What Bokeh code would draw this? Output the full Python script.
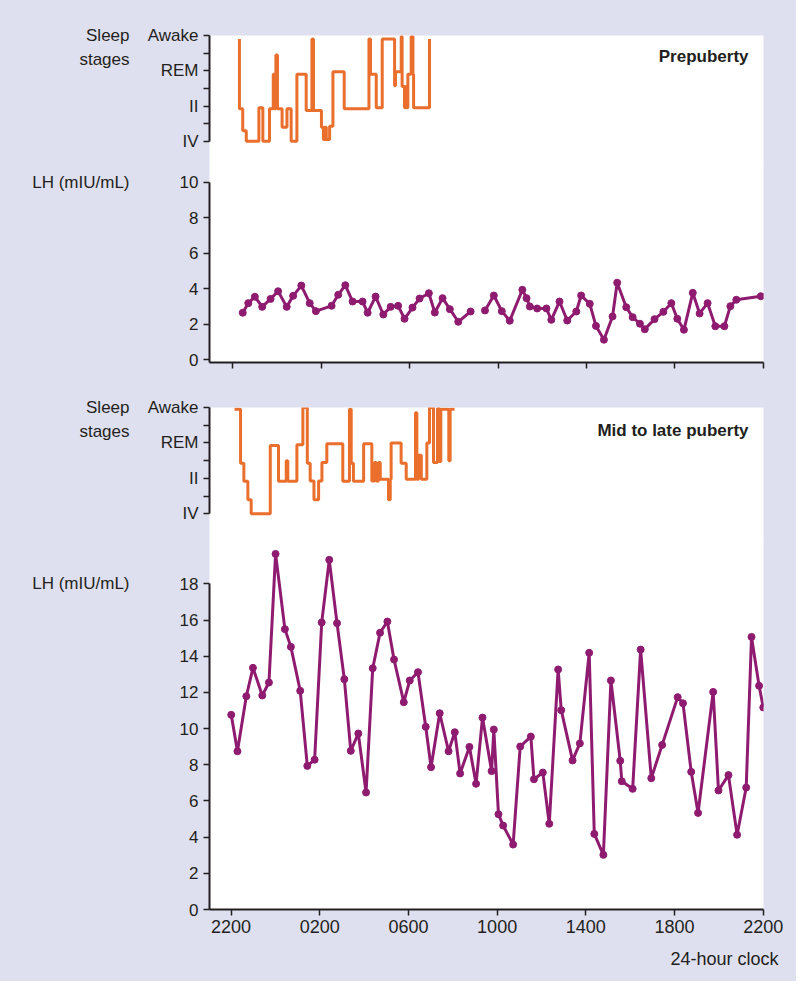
import numpy as np
from bokeh.plotting import figure
from bokeh.layouts import column, row
from bokeh.models import FixedTicker, Range1d, Label
from bokeh.core.properties import value
from bokeh.embed import file_html
from bokeh.resources import INLINE

# ---------------- data ----------------
x_ticks = [0, 4, 8, 12, 16, 20, 24]          # hours after 22:00
x_tick_labels = ["2200", "0200", "0600", "1000", "1400", "1800", "2200"]
stage_ticks = [0, 2, 4, 6]
stage_tick_labels = ["IV", "II", "REM", "Awake"]
stage_minor_ticks = [1, 3, 5]
lh_ticks_pre = [0, 2, 4, 6, 8, 10]
lh_ticks_mid = [0, 2, 4, 6, 8, 10, 12, 14, 16, 18]

pre_sleep_hours = [0.30, 0.30, 0.45, 0.61, 1.18, 1.36, 1.66, 1.83, 1.89, 1.95, 2.02,
                   2.23, 2.45, 2.64, 2.90, 3.32, 3.58, 3.65, 4.01, 4.10, 4.16,
                   4.23, 4.38, 4.53, 5.04, 6.16, 6.23, 6.49, 6.76, 7.32, 7.36,
                   7.62, 7.66, 7.77, 7.82, 7.87, 7.92, 8.07, 8.15, 8.18, 8.90]
pre_sleep_stage = [5.8, 1.85, 0.6, 0.0, 1.9, 0.0, 1.85, 3.8, 1.85, 4.9, 1.85,
                   0.8, 1.85, 0.0, 3.8, 1.75, 5.8, 1.75, 0.8, 0.1, 0.8,
                   0.1, 0.85, 3.95, 1.85, 5.8, 3.8, 1.9, 5.8, 3.15, 3.95,
                   5.95, 3.1, 1.9, 3.1, 1.9, 3.8, 5.95, 3.8, 1.9, 5.8]

pre_lh_hours = [0.45, 0.70, 1.00, 1.33, 1.71, 2.05, 2.44, 2.73, 3.10, 3.48,
                3.76, 4.47, 4.77, 5.09, 5.42, 5.87, 6.10, 6.46, 6.81, 7.14,
                7.48, 7.77, 8.13, 8.45, 8.87, 9.14, 9.49, 9.82, 10.20, 10.76,
                11.10,
                11.41, 11.81, 12.17, 12.53, 13.10, 13.29, 13.44, 13.77, 14.19, 14.41,
                14.78, 15.13, 15.54, 15.76, 16.15, 16.43, 16.79, 17.18, 17.39, 17.80,
                18.09, 18.42, 18.64, 19.08, 19.48, 19.84, 20.11, 20.41, 20.81, 21.12,
                21.48, 21.83, 22.24, 22.51, 22.78, 23.89]
pre_lh = [2.65, 3.19, 3.55, 2.98, 3.43, 3.86, 2.98, 3.60, 4.18, 3.19,
          2.74, 3.04, 3.66, 4.20, 3.28, 3.28, 2.65, 3.56, 2.55, 2.98,
          3.04, 2.31, 2.94, 3.45, 3.75, 2.66, 3.47, 2.85, 2.14, 2.72,
          float("nan"),
          2.78, 3.62, 2.74, 2.20, 3.94, 3.47, 3.00, 2.89, 2.89, 2.25,
          3.28, 2.21, 2.72, 3.62, 3.15, 1.91, 1.13, 2.44, 4.34, 2.96,
          2.40, 2.03, 1.72, 2.29, 2.70, 3.19, 2.31, 1.69, 3.77, 2.61,
          3.19, 1.89, 1.89, 3.02, 3.38, 3.58]

mid_sleep_hours = [0.16, 0.43, 0.58, 0.76, 0.91, 1.77, 2.14, 2.49, 2.56, 2.97,
                   3.24, 3.44, 3.57, 3.74, 3.95, 4.10, 4.32, 5.04, 5.34, 5.42,
                   5.52, 5.98, 6.35, 6.47, 6.55, 6.65, 6.73, 7.10, 7.18, 7.22,
                   7.67, 7.90, 8.32, 8.38, 8.46, 8.58, 8.83, 8.95, 9.13, 9.31,
                   9.40, 9.46, 9.82, 9.88, 10.08]
mid_sleep_stage = [5.9, 2.85, 1.83, 0.79, 0.0, 3.85, 1.83, 3.0, 1.83, 3.9,
                   6.0, 2.85, 1.85, 0.79, 1.85, 2.9, 3.95, 1.83, 5.9, 2.85,
                   1.83, 3.95, 1.85, 2.9, 1.85, 2.9, 1.95, 0.79, 1.95, 4.0,
                   2.85, 1.95, 5.7, 1.95, 3.3, 1.95, 4.0, 6.0, 2.9, 5.95,
                   2.95, 5.9, 3.0, 5.9, 5.9]

mid_lh_hours = [0.01, 0.29, 0.69, 0.99, 1.41, 1.71, 2.01, 2.43, 2.70, 3.12,
                3.44, 3.77, 4.09, 4.43, 4.78, 5.11, 5.40, 5.74, 6.09, 6.39,
                6.72, 7.05, 7.35, 7.79, 8.06, 8.43, 8.78, 9.02, 9.41, 9.81,
                10.09, 10.33, 10.75, 11.05, 11.34, 11.75, 11.85, 12.06, 12.27, 12.72,
                13.04, 13.52, 13.66, 14.06, 14.35, 14.75, 14.89, 15.40, 15.73, 16.15,
                16.38, 16.79, 17.13, 17.55, 17.62, 18.11, 18.47, 18.95, 19.44, 20.14,
                20.38, 20.75, 21.06, 21.74, 21.98, 22.43, 22.82, 23.23, 23.47, 23.81,
                24.0]
mid_lh = [10.76, 8.75, 11.79, 13.36, 11.83, 12.55, 19.66, 15.50, 14.52, 12.09,
          7.94, 8.28, 15.87, 19.33, 15.83, 12.73, 8.77, 9.73, 6.47, 13.34,
          15.30, 15.92, 13.82, 11.46, 12.66, 13.12, 10.10, 7.87, 10.85, 8.75,
          9.80, 7.52, 8.99, 6.95, 10.61, 7.65, 9.95, 5.27, 4.64, 3.59,
          9.01, 9.56, 7.20, 7.57, 4.74, 13.27, 11.02, 8.24, 9.18, 14.19,
          4.18, 3.02, 12.66, 8.22, 7.09, 6.67, 14.37, 7.26, 9.10, 11.74,
          11.40, 7.61, 5.34, 12.03, 6.58, 7.43, 4.13, 6.74, 15.07, 12.37,
          11.17]

# ---------------- style ----------------
BG = "#dfe0ef"
ORANGE = "#ea6e2c"
PURPLE = "#8e1b70"
INK = "#231f20"
FONT = "Liberation Sans"
TOTAL_W = 796
LABEL_W = 135          # strip for the side labels
MAIN_W = TOTAL_W - LABEL_W
AXIS_BORDER = 74
RIGHT = 33
OVERLAP = 1            # panels overlap by 1px so the white plot areas join seamlessly


def main_fig(height, x_range, y_range, top, bottom, overlap=False):
    p = figure(width=MAIN_W, height=height, x_range=x_range, y_range=y_range,
               output_backend="svg", toolbar_location=None,
               min_border_left=AXIS_BORDER, min_border_right=RIGHT,
               min_border_top=top, min_border_bottom=bottom,
               background_fill_color="white", border_fill_color=BG,
               outline_line_color=None)
    p.grid.visible = False
    if overlap:
        p.styles = {"margin-top": "-%dpx" % OVERLAP}
    return p


def px(fig_top, top, height, bottom, yr, v):
    """Screen y (from the top of the stack) of data value v in a panel."""
    frame_h = height - top - bottom
    return fig_top + top + (yr.end - v) * frame_h / (yr.end - yr.start)


def style_y(axis, ticks, labels=None, minor=None, bounds=None):
    axis.ticker = FixedTicker(ticks=ticks, minor_ticks=minor or [])
    if labels:
        axis.major_label_overrides = {t: l for t, l in zip(ticks, labels)}
    axis.bounds = bounds
    axis.axis_line_color = INK
    axis.axis_line_width = 2
    axis.major_tick_line_color = INK
    axis.major_tick_line_width = 1.5
    axis.major_tick_in = 0
    axis.major_tick_out = 6
    axis.minor_tick_line_color = INK if minor else None
    axis.minor_tick_line_width = 1.5
    axis.minor_tick_in = 0
    axis.minor_tick_out = 6
    axis.major_label_text_font = FONT
    axis.major_label_text_font_size = "17px"
    axis.major_label_text_color = INK
    axis.major_label_standoff = 5


def style_x(axis, show_labels):
    axis.ticker = FixedTicker(ticks=x_ticks, minor_ticks=[])
    axis.major_label_overrides = {t: l for t, l in zip(x_ticks, x_tick_labels)}
    axis.axis_line_color = INK
    axis.axis_line_width = 2
    axis.major_tick_line_color = INK
    axis.major_tick_line_width = 1.5
    axis.major_tick_in = 0
    axis.major_tick_out = 6
    axis.minor_tick_line_color = None
    axis.major_label_text_font = FONT
    if show_labels:
        axis.major_label_text_font_size = "18px"
        axis.major_label_text_color = INK
        axis.major_label_standoff = 4
    else:
        axis.major_label_text_font_size = "8px"
        axis.major_label_text_color = None
        axis.major_label_standoff = 0


def panel_title(p, text, y):
    p.add_layout(Label(x=539, y=y, x_units="screen", y_units="screen",
                       text=text, text_align="right", text_baseline="middle",
                       text_font=FONT, text_font_size="17px", text_font_style="bold",
                       text_color=INK))


xr_top = Range1d(-1.054, 24.01)
xr_bot = Range1d(-0.97, 24.01)
side_texts = []   # (text, screen y)

# ---- prepuberty: sleep stages ----
y0 = 0
H, T, B = 165, 35, 0
yr_a1 = Range1d(-1.375, 6)
a1 = main_fig(H, xr_top, yr_a1, T, B)
a1.xaxis.visible = False
style_y(a1.yaxis[0], stage_ticks, stage_tick_labels, stage_minor_ticks, (0, 6))
a1.step(pre_sleep_hours, pre_sleep_stage, mode="after", line_color=ORANGE, line_width=3)
panel_title(a1, "Prepuberty", 109)
side_texts += [("Sleep", px(y0, T, H, B, yr_a1, 6)), ("stages", px(y0, T, H, B, yr_a1, 6) + 24)]
y0 += H - OVERLAP

# ---- prepuberty: LH ----
H, T, B = 218, 0, 20
yr_a2 = Range1d(-0.152, 10.996)
a2 = main_fig(H, xr_top, yr_a2, T, B, overlap=True)
style_y(a2.yaxis[0], lh_ticks_pre, bounds=(-0.152, 10))
style_x(a2.xaxis[0], False)
ph = np.array(pre_lh_hours, dtype=float)
pv = np.array(pre_lh, dtype=float)
a2.line(ph, pv, line_color=PURPLE, line_width=3)
a2.scatter(ph, pv, size=7, fill_color=PURPLE, line_color=PURPLE)
side_texts += [("LH (mIU/mL)", px(y0, T, H, B, yr_a2, 10))]
y0 += H

# ---- mid to late puberty: sleep stages ----
H, T, B = 158, 25, 0
yr_b1 = Range1d(-1.51, 6)
b1 = main_fig(H, xr_bot, yr_b1, T, B)
b1.xaxis.visible = False
style_y(b1.yaxis[0], stage_ticks, stage_tick_labels, stage_minor_ticks, (0, 6))
b1.step(mid_sleep_hours, mid_sleep_stage, mode="after", line_color=ORANGE, line_width=3)
panel_title(b1, "Mid to late puberty", 110)
side_texts += [("Sleep", px(y0, T, H, B, yr_b1, 6)), ("stages", px(y0, T, H, B, yr_b1, 6) + 24)]
y0 += H - OVERLAP

# ---- mid to late puberty: LH ----
H, T, B = 406, 0, 36
yr_b2 = Range1d(0, 20.455)
b2 = main_fig(H, xr_bot, yr_b2, T, B, overlap=True)
style_y(b2.yaxis[0], lh_ticks_mid, bounds=(0, 18))
style_x(b2.xaxis[0], True)
mh = np.array(mid_lh_hours, dtype=float)
mv = np.array(mid_lh, dtype=float)
b2.line(mh, mv, line_color=PURPLE, line_width=3)
b2.scatter(mh, mv, size=7, fill_color=PURPLE, line_color=PURPLE)
side_texts += [("LH (mIU/mL)", px(y0, T, H, B, yr_b2, 18))]
y0 += H

STACK_H = y0

# ---- side label strip ----
lab = figure(width=LABEL_W, height=STACK_H, x_range=Range1d(0, 1), y_range=Range1d(STACK_H, 0),
             output_backend="svg", toolbar_location=None,
             x_axis_location=None, y_axis_location=None,
             min_border_left=0, min_border_right=0, min_border_top=0, min_border_bottom=0,
             background_fill_color=BG, border_fill_color=BG, outline_line_color=None)
lab.grid.visible = False
lab.text(x=[1] * len(side_texts), y=[t[1] for t in side_texts], text=[t[0] for t in side_texts],
         x_offset=-6, text_align="right", text_baseline="middle",
         text_font=value(FONT), text_font_size="17px", text_color=INK)

# ---- caption strip with the x-axis title ----
CAP_H = 981 - STACK_H
cap = figure(width=TOTAL_W, height=CAP_H, x_range=Range1d(0, TOTAL_W), y_range=Range1d(CAP_H, 0),
             output_backend="svg", toolbar_location=None,
             x_axis_location=None, y_axis_location=None,
             min_border_left=0, min_border_right=0, min_border_top=0, min_border_bottom=0,
             background_fill_color=BG, border_fill_color=BG, outline_line_color=None)
cap.grid.visible = False
cap.text(x=[778], y=[13], text=["24-hour clock"], text_align="right", text_baseline="middle",
         text_font=value(FONT), text_font_size="18px", text_color=INK)

bg = {"background-color": BG}
layout = column(row(lab, column(a1, a2, b1, b2, spacing=0, styles=bg), spacing=0, styles=bg),
                cap, spacing=0, styles=bg)
open("out.html", "w").write(file_html(layout, INLINE))
